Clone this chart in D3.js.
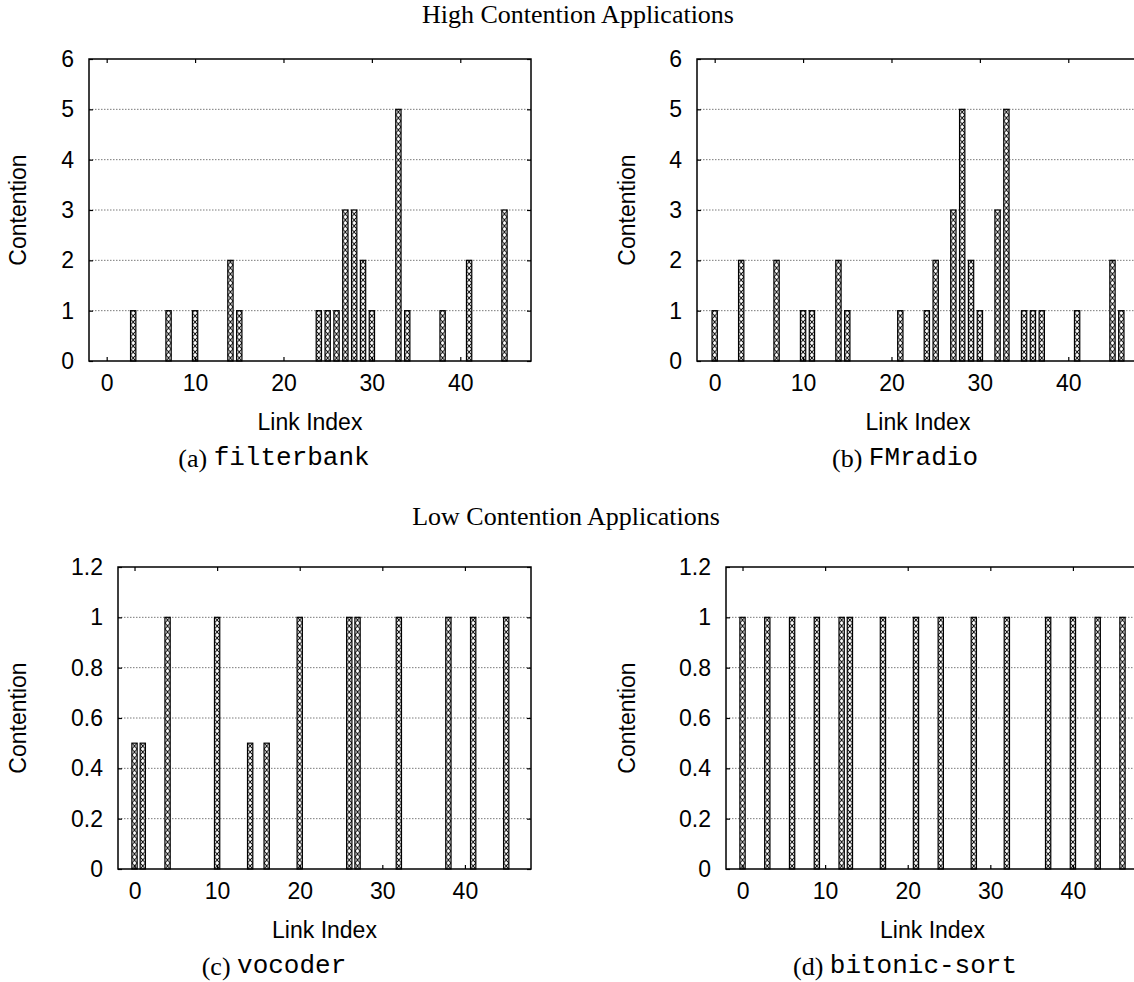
<!DOCTYPE html>
<html>
<head>
<meta charset="utf-8">
<script src="https://cdn.jsdelivr.net/npm/d3@7"></script>
<style>
  body { margin: 0; background: #fff; }
  svg { display: block; }
</style>
</head>
<body>
<svg id="chart" width="1134" height="982"></svg>
<script>
// link index / contention values
var filterbankIdx = [3, 7, 10, 14, 15, 24, 25, 26, 27, 28, 29, 30, 33, 34, 38, 41, 45];
var filterbankVal = [1, 1, 1, 2, 1, 1, 1, 1, 3, 3, 2, 1, 5, 1, 1, 2, 3];

var fmradioIdx = [0, 3, 7, 10, 11, 14, 15, 21, 24, 25, 27, 28, 29, 30, 32, 33, 35, 36, 37, 41, 45, 46];
var fmradioVal = [1, 2, 2, 1, 1, 2, 1, 1, 1, 2, 3, 5, 2, 1, 3, 5, 1, 1, 1, 1, 2, 1];

var vocoderIdx = [0, 1, 4, 10, 14, 16, 20, 26, 27, 32, 38, 41, 45];
var vocoderVal = [0.5, 0.5, 1, 1, 0.5, 0.5, 1, 1, 1, 1, 1, 1, 1];

var bitonicIdx = [0, 3, 6, 9, 12, 13, 17, 21, 24, 28, 32, 37, 40, 43, 46];
var bitonicVal = [1, 1, 1, 1, 1, 1, 1, 1, 1, 1, 1, 1, 1, 1, 1];

var xTicks = [0, 10, 20, 30, 40];
var highTicks = [0, 1, 2, 3, 4, 5, 6];
var lowTicks = [0, 0.2, 0.4, 0.6, 0.8, 1, 1.2];
var lowTickLabels = ["0", "0.2", "0.4", "0.6", "0.8", "1", "1.2"];

var sans = "'Liberation Sans', Arial, sans-serif",
    serif = "'Liberation Serif', 'Times New Roman', serif",
    mono = "'Liberation Mono', 'Courier New', monospace";

var svg = d3.select("#chart");
var defs = svg.append("defs");
var patId = 0;

function pack(idx, val) {
  return idx.map(function(d, i) { return {idx: d, val: val[i]}; });
}

function panel(opt) {
  var x = d3.scaleLinear().domain([-2, 48]).range([opt.left, opt.right]);
  var y = d3.scaleLinear().domain([0, opt.ymax]).range([opt.bottom, opt.top]);
  var g = svg.append("g");
  var bw = (x(1) - x(0)) * opt.barFrac;

  // dotted grid
  g.selectAll(".grid")
    .data(opt.yTicks.slice(1, -1))
    .enter().append("line")
    .attr("x1", opt.left).attr("x2", opt.right)
    .attr("y1", function(d) { return y(d); })
    .attr("y2", function(d) { return y(d); })
    .attr("stroke", "#7a7a7a")
    .attr("stroke-width", 1)
    .attr("stroke-dasharray", "1.5,1.5");

  // bars with crosshatch, one pattern per bar so the hatch lines up
  var bars = g.selectAll(".bar")
    .data(pack(opt.idx, opt.val))
    .enter().append("g");

  bars.each(function(d) {
    var id = "hatch" + (patId++);
    var p = defs.append("pattern")
      .attr("id", id)
      .attr("patternUnits", "userSpaceOnUse")
      .attr("x", x(d.idx) - bw / 2)
      .attr("y", y(0))
      .attr("width", bw)
      .attr("height", 6);
    p.append("rect").attr("width", bw).attr("height", 6).attr("fill", "#fff");
    p.append("path")
      .attr("d", "M0,0L" + bw + ",6M" + bw + ",0L0,6")
      .attr("stroke", "#000")
      .attr("stroke-width", 0.9)
      .attr("fill", "none");
    d3.select(this).append("rect")
      .attr("x", x(d.idx) - bw / 2)
      .attr("y", y(d.val))
      .attr("width", bw)
      .attr("height", y(0) - y(d.val))
      .attr("fill", "url(#" + id + ")")
      .attr("stroke", "#000")
      .attr("stroke-width", 1.2);
  });

  // axes: inward ticks all round, labels on left/bottom
  g.append("g").attr("transform", "translate(0," + opt.bottom + ")")
    .call(d3.axisBottom(x).tickValues(xTicks).tickSize(-4).tickPadding(14).tickFormat(d3.format("d")));
  g.append("g").attr("transform", "translate(" + opt.left + ",0)")
    .call(d3.axisLeft(y).tickValues(opt.yTicks).tickSize(-4).tickPadding(15)
      .tickFormat(function(d, i) { return opt.yLabels[i]; }));
  g.append("g").attr("transform", "translate(0," + opt.top + ")")
    .call(d3.axisTop(x).tickValues(xTicks).tickSize(-4).tickFormat(""));
  g.append("g").attr("transform", "translate(" + opt.right + ",0)")
    .call(d3.axisRight(y).tickValues(opt.yTicks).tickSize(-4).tickFormat(""));

  g.selectAll(".domain").remove();
  g.selectAll(".tick line").attr("stroke", "#000").attr("stroke-width", 1.2);
  g.selectAll(".tick text")
    .attr("fill", "#000")
    .style("font-family", sans)
    .style("font-size", "23px");

  g.append("rect")
    .attr("x", opt.left).attr("y", opt.top)
    .attr("width", opt.right - opt.left)
    .attr("height", opt.bottom - opt.top)
    .attr("fill", "none")
    .attr("stroke", "#000")
    .attr("stroke-width", 1.5);

  g.append("text")
    .attr("transform", "translate(" + opt.ylabX + "," + (opt.top + opt.bottom) / 2 + ") rotate(-90)")
    .attr("text-anchor", "middle")
    .attr("dominant-baseline", "central")
    .style("font-family", sans)
    .style("font-size", "23px")
    .text("Contention");

  g.append("text")
    .attr("x", (opt.left + opt.right) / 2)
    .attr("y", opt.bottom + 61)
    .attr("text-anchor", "middle")
    .attr("dominant-baseline", "central")
    .style("font-family", sans)
    .style("font-size", "23px")
    .text("Link Index");

  var cap = g.append("text")
    .attr("x", opt.capX)
    .attr("y", opt.bottom + 97)
    .attr("text-anchor", "middle")
    .attr("dominant-baseline", "central");
  cap.append("tspan").style("font-family", serif).style("font-size", "26px").text(opt.tag + " ");
  cap.append("tspan").style("font-family", mono).style("font-size", "26px").text(opt.name);
}

svg.append("text")
  .attr("x", 578).attr("y", 14)
  .attr("text-anchor", "middle").attr("dominant-baseline", "central")
  .style("font-family", serif).style("font-size", "26px")
  .text("High Contention Applications");

svg.append("text")
  .attr("x", 566).attr("y", 516)
  .attr("text-anchor", "middle").attr("dominant-baseline", "central")
  .style("font-family", serif).style("font-size", "26px")
  .text("Low Contention Applications");

panel({left: 89, right: 531, top: 59, bottom: 361, ymax: 6, yTicks: highTicks, yLabels: highTicks.map(String),
  idx: filterbankIdx, val: filterbankVal, barFrac: 0.6, ylabX: 18, capX: 274, tag: "(a)", name: "filterbank"});
panel({left: 697, right: 1139, top: 59, bottom: 361, ymax: 6, yTicks: highTicks, yLabels: highTicks.map(String),
  idx: fmradioIdx, val: fmradioVal, barFrac: 0.6, ylabX: 627, capX: 905, tag: "(b)", name: "FMradio"});
panel({left: 118, right: 531, top: 567, bottom: 869, ymax: 1.2, yTicks: lowTicks, yLabels: lowTickLabels,
  idx: vocoderIdx, val: vocoderVal, barFrac: 0.64, ylabX: 18, capX: 274, tag: "(c)", name: "vocoder"});
panel({left: 726, right: 1139, top: 567, bottom: 869, ymax: 1.2, yTicks: lowTicks, yLabels: lowTickLabels,
  idx: bitonicIdx, val: bitonicVal, barFrac: 0.64, ylabX: 627, capX: 905, tag: "(d)", name: "bitonic-sort"});
</script>
</body>
</html>
